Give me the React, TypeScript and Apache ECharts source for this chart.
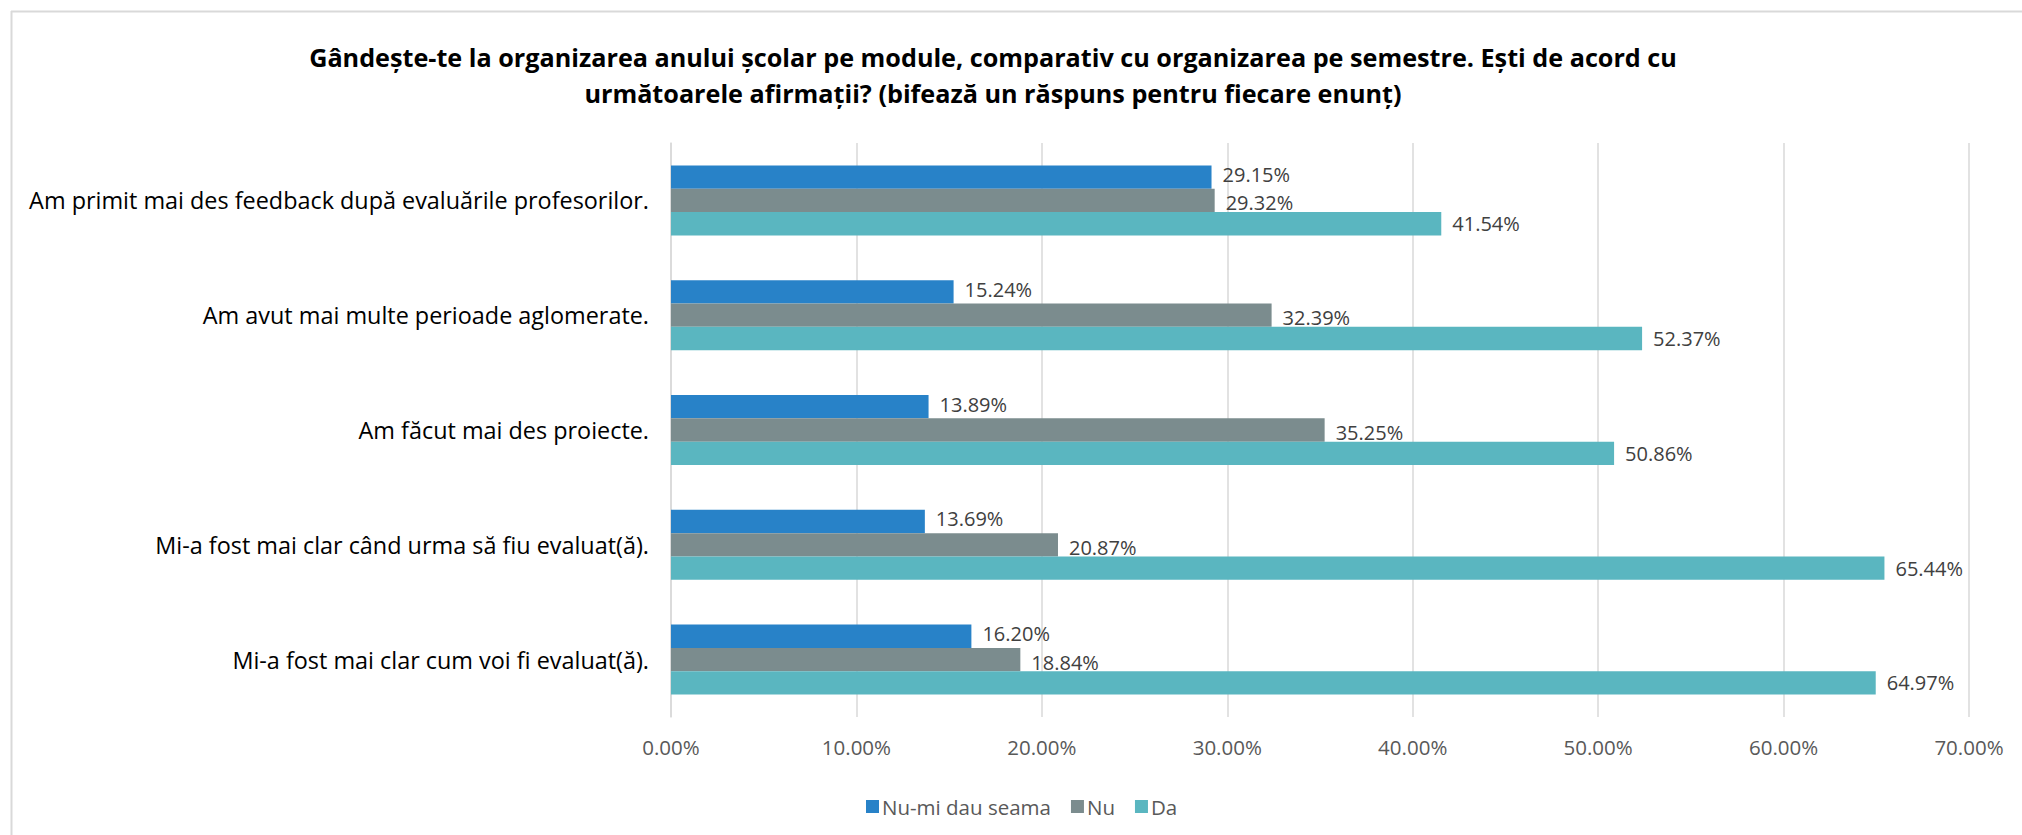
import React, { useEffect, useRef } from "react";
import * as echarts from "echarts";

const titleLines = [
  "Gândește-te la organizarea anului școlar pe module, comparativ cu organizarea pe semestre. Ești de acord cu",
  "următoarele afirmații? (bifează un răspuns pentru fiecare enunț)",
];

const categories = [
  "Am primit mai des feedback după evaluările profesorilor.",
  "Am avut mai multe perioade aglomerate.",
  "Am făcut mai des proiecte.",
  "Mi-a fost mai clar când urma să fiu evaluat(ă).",
  "Mi-a fost mai clar cum voi fi evaluat(ă).",
];

const seriesNames = ["Nu-mi dau seama", "Nu", "Da"];
const nuMiDauSeama = [29.15, 15.24, 13.89, 13.69, 16.2];
const nu = [29.32, 32.39, 35.25, 20.87, 18.84];
const da = [41.54, 52.37, 50.86, 65.44, 64.97];
const seriesColors = ["#2882C8", "#7B8C8E", "#5AB6C0"];

const xTicks = { min: 0, max: 70, interval: 10 };

const FONT = '"Open Sans", "Noto Sans", sans-serif';
const labelOffsets = [
  [0, -2.5],
  [0, 2.5],
  [0, 0],
];

export default function App() {
  const ref = useRef<HTMLDivElement>(null);

  useEffect(() => {
    if (!ref.current) return;
    const chart = echarts.init(ref.current, undefined, { renderer: "svg" });
    const seriesData = [nuMiDauSeama, nu, da];
    chart.setOption({
      animation: false,
      backgroundColor: "#ffffff",
      textStyle: { fontFamily: FONT },
      graphic: [
        {
          type: "line",
          shape: { x1: 11.5, y1: 11, x2: 11.5, y2: 835 },
          style: { stroke: "#d9d9d9", lineWidth: 2 },
        },
        {
          type: "line",
          shape: { x1: 11, y1: 11.5, x2: 2022, y2: 11.5 },
          style: { stroke: "#d9d9d9", lineWidth: 2 },
        },
        {
          type: "text",
          x: 993,
          y: 39,
          style: {
            text: titleLines.join("\n"),
            font: `bold 25.2px ${FONT}`,
            fill: "#000000",
            align: "center",
            textAlign: "center",
            verticalAlign: "top",
            textVerticalAlign: "top",
            lineHeight: 36,
          },
        },
      ],
      legend: {
        left: 861,
        top: 791,
        itemWidth: 13,
        itemHeight: 13,
        itemGap: 20,
        icon: "rect",
        textStyle: { fontSize: 20.5, color: "#595959", fontFamily: FONT, padding: [0, 0, 0, -2] },
        data: seriesNames,
      },
      grid: { left: 671, right: 53, top: 143, bottom: 118, containLabel: false },
      xAxis: {
        type: "value",
        min: xTicks.min,
        max: xTicks.max,
        interval: xTicks.interval,
        axisLine: { show: false },
        axisTick: { show: false },
        splitLine: { show: true, lineStyle: { color: "#d9d9d9", width: 1.5 } },
        axisLabel: {
          margin: 19,
          fontSize: 20.5,
          color: "#595959",
          fontFamily: FONT,
          formatter: (v: number) => v.toFixed(2) + "%",
        },
      },
      yAxis: {
        type: "category",
        inverse: true,
        data: categories,
        axisLine: { show: true, lineStyle: { color: "#d9d9d9", width: 1.5 } },
        axisTick: { show: false },
        axisLabel: { margin: 22, fontSize: 23.4, color: "#000000", fontFamily: FONT },
      },
      series: seriesNames.map((name, i) => ({
        name,
        type: "bar",
        data: seriesData[i],
        barGap: "0%",
        barCategoryGap: "39%",
        itemStyle: { color: seriesColors[i] },
        label: {
          show: true,
          position: "right",
          distance: 11,
          offset: labelOffsets[i],
          fontSize: 20,
          lineHeight: 20,
          padding: 0,
          color: "#404040",
          fontFamily: FONT,
          formatter: (p: any) => Number(p.value).toFixed(2) + "%",
        },
      })),
    });
    return () => chart.dispose();
  }, []);

  return (
    <div
      ref={ref}
      style={{ position: "fixed", left: 0, top: 0, width: 2022, height: 835 }}
    />
  );
}
